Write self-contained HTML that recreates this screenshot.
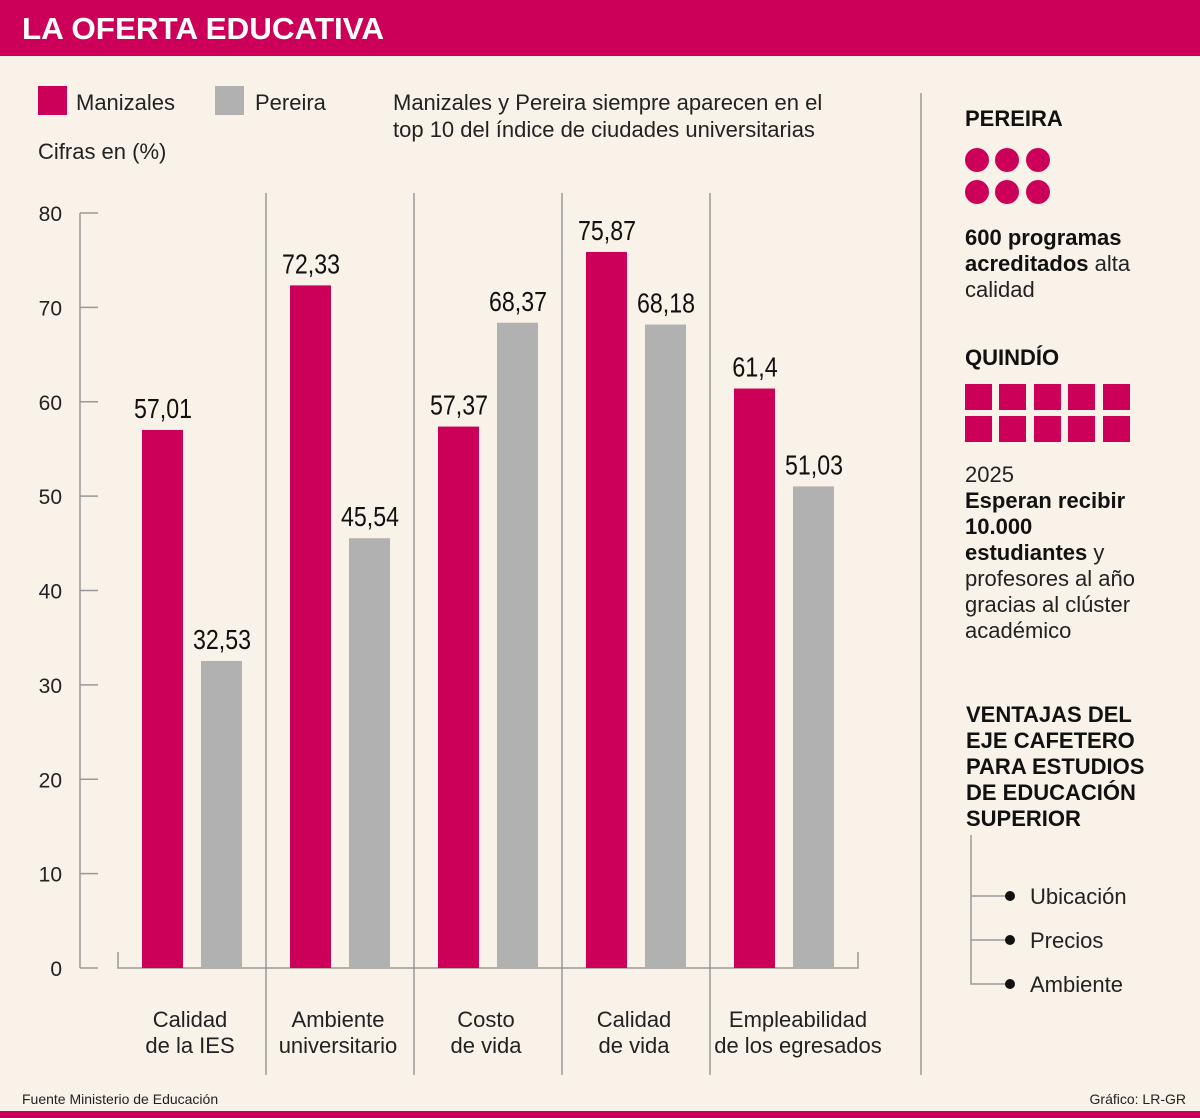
<!DOCTYPE html>
<html><head><meta charset="utf-8"><style>
body{margin:0;background:#f8f2e8;}
svg{display:block;font-family:"Liberation Sans",sans-serif;}
</style></head><body>
<svg width="1200" height="1118" viewBox="0 0 1200 1118">
<rect width="1200" height="1118" fill="#f8f2e8"/>
<rect x="0" y="0" width="1200" height="56" fill="#cc0058"/>
<text x="22" y="39" font-size="31" font-weight="bold" fill="#fff" textLength="362" lengthAdjust="spacingAndGlyphs">LA OFERTA EDUCATIVA</text>
<rect x="0" y="1111" width="1200" height="7" fill="#cc0058"/>

<g>
<rect x="38" y="86" width="29" height="29" fill="#cc0058"/>
<text x="76" y="110" font-size="22" fill="#222">Manizales</text>
<rect x="215" y="86" width="29" height="29" fill="#b2b1b1"/>
<text x="255" y="110" font-size="22" fill="#222">Pereira</text>
</g>
<text x="38" y="159" font-size="22" fill="#222">Cifras en (%)</text>
<text font-size="22" fill="#222"><tspan x="393" y="110">Manizales y Pereira siempre aparecen en el</tspan><tspan x="393" y="137">top 10 del índice de ciudades universitarias</tspan></text>

<g id="chart"></g>

<line x1="921" y1="93" x2="921" y2="1075" stroke="#999" stroke-width="1.5"/>
<g>
<text x="965" y="126" font-size="22" font-weight="bold" fill="#111">PEREIRA</text>
<g fill="#cc0058">
<circle cx="977" cy="160" r="12"/><circle cx="1007" cy="160" r="12"/><circle cx="1038" cy="160" r="12"/>
<circle cx="977" cy="192" r="12"/><circle cx="1007" cy="192" r="12"/><circle cx="1038" cy="192" r="12"/>
</g>
<text font-size="22" fill="#222"><tspan x="965" y="245" font-weight="bold" fill="#111">600 programas</tspan><tspan x="965" y="271"><tspan font-weight="bold" fill="#111">acreditados</tspan> alta</tspan><tspan x="965" y="297">calidad</tspan></text>
<text x="965" y="365" font-size="22" font-weight="bold" fill="#111">QUINDÍO</text>
<g fill="#cc0058">
<rect x="965" y="384" width="27" height="26"/><rect x="999" y="384" width="27" height="26"/><rect x="1034" y="384" width="27" height="26"/><rect x="1068" y="384" width="27" height="26"/><rect x="1103" y="384" width="27" height="26"/>
<rect x="965" y="416" width="27" height="26"/><rect x="999" y="416" width="27" height="26"/><rect x="1034" y="416" width="27" height="26"/><rect x="1068" y="416" width="27" height="26"/><rect x="1103" y="416" width="27" height="26"/>
</g>
<text font-size="22" fill="#222"><tspan x="965" y="482">2025</tspan><tspan x="965" y="508" font-weight="bold" fill="#111">Esperan recibir</tspan><tspan x="965" y="534" font-weight="bold" fill="#111">10.000</tspan><tspan x="965" y="560"><tspan font-weight="bold" fill="#111">estudiantes</tspan> y</tspan><tspan x="965" y="586">profesores al año</tspan><tspan x="965" y="612">gracias al clúster</tspan><tspan x="965" y="638">académico</tspan></text>
<text font-size="22" font-weight="bold" fill="#111"><tspan x="966" y="722">VENTAJAS DEL</tspan><tspan x="966" y="748">EJE CAFETERO</tspan><tspan x="966" y="774">PARA ESTUDIOS</tspan><tspan x="966" y="800">DE EDUCACIÓN</tspan><tspan x="966" y="826">SUPERIOR</tspan></text>
<polyline points="971,835 971,984 1010,984" fill="none" stroke="#999" stroke-width="1.5"/>
<line x1="971" y1="896" x2="1010" y2="896" stroke="#999" stroke-width="1.5"/>
<line x1="971" y1="940" x2="1010" y2="940" stroke="#999" stroke-width="1.5"/>
<circle cx="1010" cy="896" r="5" fill="#111"/><circle cx="1010" cy="940" r="5" fill="#111"/><circle cx="1010" cy="984" r="5" fill="#111"/>
<text x="1030" y="904" font-size="22" fill="#222">Ubicación</text>
<text x="1030" y="948" font-size="22" fill="#222">Precios</text>
<text x="1030" y="992" font-size="22" fill="#222">Ambiente</text>
</g>
<text x="22" y="1104" font-size="14" fill="#222">Fuente Ministerio de Educación</text>
<text x="1186" y="1104" font-size="14" fill="#222" text-anchor="end">Gráfico: LR-GR</text>
</svg>
<script>
const categories = [["Calidad","de la IES"],["Ambiente","universitario"],["Costo","de vida"],["Calidad","de vida"],["Empleabilidad","de los egresados"]];
const manizales = [57.01, 72.33, 57.37, 75.87, 61.4];
const pereira = [32.53, 45.54, 68.37, 68.18, 51.03];
const manizalesLabels = ["57,01","72,33","57,37","75,87","61,4"];
const pereiraLabels = ["32,53","45,54","68,37","68,18","51,03"];
const yTicks = [0,10,20,30,40,50,60,70,80];

const NS="http://www.w3.org/2000/svg";
const g=document.getElementById('chart');
const y0=968, yTop=213, vMax=80;
const yScale=v=>y0-(v/vMax)*(y0-yTop);
const groupStart=i=>118+148*i;
function mk(tag,attrs){const e=document.createElementNS(NS,tag);for(const k in attrs)e.setAttribute(k,attrs[k]);g.appendChild(e);return e;}
const labW=s=>s.length*12.4-(s.includes(',')?4:0);

let ax=mk('line',{x1:80,y1:yTop,x2:80,y2:y0,stroke:'#999','stroke-width':1.5});


yTicks.forEach(t=>{
  const y=yScale(t);
  const tk=mk('line',{x1:80,y1:y,x2:98,y2:y,stroke:'#999','stroke-width':1.5});
  
  
  const tl=mk('text',{x:62,y:y+8,'font-size':21,fill:'#222','text-anchor':'end'});
  tl.textContent=t;
  
  
});
let bl=mk('polyline',{points:`118,${y0-16} 118,${y0} 858,${y0} 858,${y0-16}`,fill:'none',stroke:'#999','stroke-width':1.5});


[1,2,3,4].forEach(i=>{
  const s=mk('line',{x1:groupStart(i),y1:193,x2:groupStart(i),y2:1075,stroke:'#999','stroke-width':1.5});
  
  
});
categories.forEach((c,i)=>{
  const gx=groupStart(i);
  const hm=yScale(manizales[i]);
  const bm=mk('rect',{x:gx+24,y:hm,width:41,height:y0-hm,fill:'#cc0058'});
  
  
  const tm=mk('text',{x:gx+45,y:hm-12,'font-size':28,fill:'#111','text-anchor':'middle',textLength:labW(manizalesLabels[i]),lengthAdjust:'spacingAndGlyphs'});
  tm.textContent=manizalesLabels[i];
  
  
  const hp=yScale(pereira[i]);
  const bp=mk('rect',{x:gx+83,y:hp,width:41,height:y0-hp,fill:'#b2b1b1'});
  
  
  const tp=mk('text',{x:gx+104,y:hp-12,'font-size':28,fill:'#111','text-anchor':'middle',textLength:labW(pereiraLabels[i]),lengthAdjust:'spacingAndGlyphs'});
  tp.textContent=pereiraLabels[i];
  
  
  const cl=mk('text',{'font-size':22,fill:'#222','text-anchor':'middle'});
  
  
  c.forEach((line,j)=>{const ts=document.createElementNS(NS,'tspan');ts.setAttribute('x',gx+72+(i==4?16:0));ts.setAttribute('y',1027+j*26);ts.textContent=line;cl.appendChild(ts);});
});
</script>
</body></html>
